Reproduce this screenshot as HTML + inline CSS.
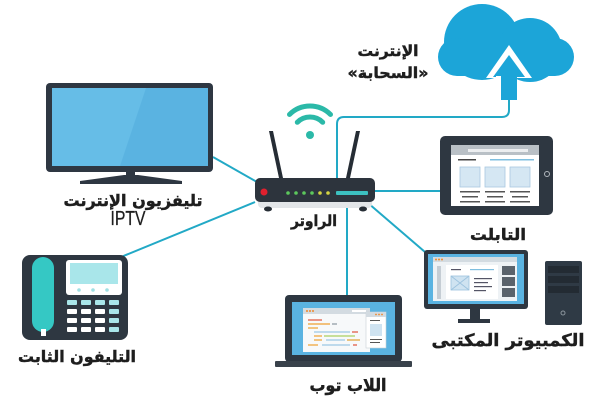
<!DOCTYPE html>
<html><head><meta charset="utf-8"><style>
html,body{margin:0;padding:0;background:#fff;}
svg{display:block;}
.lb{font-family:"DejaVu Sans","Liberation Sans",sans-serif;font-weight:bold;fill:#1e1e1e;stroke:#1e1e1e;stroke-width:0.45;}
</style></head><body>
<svg width="600" height="400" viewBox="0 0 600 400" xmlns="http://www.w3.org/2000/svg">
<!-- connectors -->
<g stroke="#22a9c6" stroke-width="2" fill="none">
<line x1="213" y1="157" x2="257" y2="182"/>
<line x1="255" y1="202" x2="121" y2="257"/>
<path d="M337,180 V124 Q337,117 344,117 H502 Q509,117 509,110 V98"/>
<line x1="375" y1="191" x2="441" y2="191"/>
<line x1="347" y1="205" x2="347" y2="296"/>
<line x1="368" y1="203" x2="425" y2="252"/>
</g>

<!-- cloud -->
<g fill="#1ca5d8">
<circle cx="482" cy="42" r="38"/>
<circle cx="530" cy="50" r="32"/>
<circle cx="457" cy="57" r="19"/>
<circle cx="555" cy="57" r="19"/>
<rect x="457" y="45" width="98" height="31"/>
</g>
<polygon points="509,45 486,78 532,78" fill="#fff"/>
<polygon points="509,55 493,77 525,77" fill="#1ca5d8"/>
<rect x="501" y="76" width="16" height="24" fill="#1ca5d8"/>
<rect x="496" y="76" width="5" height="1" fill="#fff"/>

<!-- TV -->
<rect x="46" y="83" width="167" height="89" rx="4" fill="#2e3742"/>
<rect x="52" y="88" width="156" height="78" fill="#5ab3e1"/>
<polygon points="52,88 146,88 120,166 52,166" fill="#66bde7"/>
<rect x="126" y="172" width="9" height="5" fill="#2e3742"/>
<polygon points="80,181 124,175 138,175 182,181 182,184 80,184" fill="#2e3742"/>

<!-- router -->
<polygon points="269,131 273,131 283,178 279,178" fill="#262d35"/>
<polygon points="356,131 360,131 350,178 346,178" fill="#262d35"/>
<rect x="258" y="198" width="114" height="10" rx="4" fill="#e2e5e8"/>
<ellipse cx="268" cy="209" rx="4" ry="2.5" fill="#262d35"/>
<ellipse cx="363" cy="209" rx="4" ry="2.5" fill="#262d35"/>
<rect x="255" y="178" width="120" height="24" rx="5" fill="#2d343d"/>
<circle cx="264" cy="192" r="3.5" fill="#e0202e"/>
<g fill="#5cc85c"><circle cx="288" cy="193" r="1.8"/><circle cx="296" cy="193" r="1.8"/><circle cx="304" cy="193" r="1.8"/><circle cx="312" cy="193" r="1.8"/></g>
<g fill="#d4d442"><circle cx="320" cy="193" r="1.8"/><circle cx="328" cy="193" r="1.8"/></g>
<rect x="336" y="191" width="32" height="4" rx="1" fill="#3cc0c0"/>

<!-- wifi -->
<g fill="none" stroke="#2bb9a8" stroke-width="5" stroke-linecap="round">
<path d="M289.5,114.5 A29,29 0 0 1 330.5,114.5"/>
<path d="M297.3,122.3 A18,18 0 0 1 322.7,122.3"/>
</g>
<circle cx="310" cy="135" r="4" fill="#2bb9a8"/>

<!-- tablet -->
<rect x="440" y="136" width="113" height="79" rx="5" fill="#2e3741"/>
<rect x="451" y="145" width="88" height="61" fill="#fff"/>
<rect x="451" y="145" width="88" height="10" fill="#b9c0c6"/>
<rect x="468" y="149" width="60" height="3" fill="#eceef0"/>
<rect x="458" y="159" width="18" height="1.5" fill="#444"/>
<rect x="490" y="159" width="44" height="1.5" fill="#7fbfe0"/>
<g fill="#d5e7f3" stroke="#a9c9e0" stroke-width="0.8">
<rect x="460" y="167" width="20" height="20"/><rect x="485" y="167" width="20" height="20"/><rect x="510" y="167" width="20" height="20"/>
</g>
<g fill="#555">
<rect x="460" y="191" width="20" height="1.5"/><rect x="485" y="191" width="20" height="1.5"/><rect x="510" y="191" width="20" height="1.5"/>
<rect x="462" y="196" width="16" height="1.5"/><rect x="487" y="196" width="16" height="1.5"/><rect x="512" y="196" width="16" height="1.5"/>
<rect x="460" y="201" width="20" height="1.5"/><rect x="485" y="201" width="20" height="1.5"/><rect x="510" y="201" width="20" height="1.5"/>
</g>
<circle cx="547" cy="174" r="2.5" fill="none" stroke="#b0b6bc" stroke-width="1"/>

<!-- desktop -->
<rect x="424" y="250" width="104" height="59" rx="3" fill="#2e3741"/>
<rect x="428" y="254" width="96" height="50" fill="#5ab3e1"/>
<rect x="433" y="257" width="84" height="44" fill="#eef2f5"/>
<rect x="433" y="257" width="84" height="5" fill="#d3dbe1"/>
<g fill="#f08a2c"><circle cx="436" cy="259.5" r="1"/><circle cx="439" cy="259.5" r="1"/><circle cx="442" cy="259.5" r="1"/></g>
<rect x="437" y="266" width="4" height="33" fill="#c5cdd4"/>
<rect x="446" y="265" width="52" height="34" fill="#fff"/>
<rect x="451" y="276" width="18" height="14" fill="#cfe3f1" stroke="#9cc2de" stroke-width="0.8"/>
<path d="M451,276 L469,290 M469,276 L451,290" stroke="#9cc2de" stroke-width="0.8"/>
<g fill="#556"><rect x="474" y="278" width="18" height="1.2"/><rect x="474" y="282" width="14" height="1.2"/><rect x="474" y="286" width="18" height="1.2"/><rect x="474" y="290" width="12" height="1.2"/></g>
<rect x="451" y="269" width="10" height="1.2" fill="#556"/>
<rect x="470" y="269" width="24" height="1.2" fill="#7fbfe0"/>
<g fill="#5a636c"><rect x="502" y="266" width="13" height="9"/><rect x="502" y="277" width="13" height="9"/><rect x="502" y="288" width="13" height="9"/></g>
<rect x="470" y="309" width="10" height="11" fill="#2e3741"/>
<rect x="458" y="319" width="32" height="4" fill="#2e3741"/>
<rect x="545" y="261" width="37" height="64" rx="2" fill="#2f3a45"/>
<g fill="#232b33"><rect x="548" y="266" width="31" height="7"/><rect x="548" y="276" width="31" height="7"/><rect x="548" y="286" width="31" height="7"/></g>
<circle cx="563" cy="313" r="2" fill="none" stroke="#8a949c" stroke-width="1"/>

<!-- laptop -->
<rect x="285" y="295" width="117" height="67" rx="4" fill="#2e3741"/>
<rect x="292" y="302" width="103" height="53" fill="#5ab3e1"/>
<rect x="275" y="361" width="137" height="6" rx="1" fill="#39424b"/>
<rect x="303" y="308" width="67" height="44" fill="#f7f9fa"/>
<rect x="303" y="308" width="67" height="6" fill="#d3dbe1"/>
<g fill="#f08a2c"><circle cx="307" cy="311" r="1"/><circle cx="310" cy="311" r="1"/><circle cx="313" cy="311" r="1"/></g>
<rect x="352" y="310" width="14" height="2" fill="#fff"/>
<g stroke-width="1.2">
<line x1="308" y1="320" x2="322" y2="320" stroke="#e0533b"/>
<line x1="308" y1="324" x2="330" y2="324" stroke="#f0a030"/><line x1="332" y1="324" x2="337" y2="324" stroke="#8a96a0"/>
<line x1="308" y1="328" x2="318" y2="328" stroke="#f0a030"/>
<line x1="314" y1="332" x2="350" y2="332" stroke="#9cc8e4"/><line x1="352" y1="332" x2="358" y2="332" stroke="#e0533b"/>
<line x1="314" y1="336" x2="322" y2="336" stroke="#f0a030"/><line x1="324" y1="336" x2="355" y2="336" stroke="#a8d060"/>
<line x1="314" y1="340" x2="322" y2="340" stroke="#f0a030"/><line x1="326" y1="340" x2="345" y2="340" stroke="#9cc8e4"/><line x1="347" y1="340" x2="360" y2="340" stroke="#e0a030"/>
<line x1="308" y1="345" x2="318" y2="345" stroke="#f0a030"/><line x1="322" y1="345" x2="350" y2="345" stroke="#9cc8e4"/><line x1="353" y1="345" x2="357" y2="345" stroke="#e0533b"/>
</g>
<rect x="366" y="312" width="20" height="36" fill="#fff" stroke="#c8d0d6" stroke-width="0.6"/>
<rect x="366" y="312" width="20" height="5" fill="#d3dbe1"/>
<g fill="#f08a2c"><circle cx="376" cy="314.5" r="0.9"/><circle cx="379" cy="314.5" r="0.9"/><circle cx="382" cy="314.5" r="0.9"/></g>
<rect x="370" y="320" width="10" height="1" fill="#555"/>
<rect x="370" y="324" width="12" height="12" fill="#cfe3f1"/>
<rect x="370" y="339" width="12" height="1" fill="#555"/><rect x="370" y="342" width="10" height="1" fill="#555"/>

<!-- phone -->
<rect x="22" y="255" width="106" height="85" rx="8" fill="#2e3741"/>
<rect x="32" y="257" width="22" height="75" rx="11" fill="#35c8c4"/>
<rect x="41" y="329" width="5" height="7" fill="#fff"/>
<rect x="66" y="260" width="56" height="35" rx="3" fill="#fff"/>
<rect x="70" y="263" width="48" height="21" fill="#a9e6ea"/>
<g fill="#9fdfe3"><circle cx="79" cy="290" r="1.8"/><circle cx="93" cy="290" r="1.8"/><circle cx="107" cy="290" r="1.8"/></g>
<g fill="#a9e6ea"><rect x="67" y="300" width="10" height="5" rx="1"/><rect x="81" y="300" width="10" height="5" rx="1"/><rect x="95" y="300" width="10" height="5" rx="1"/><rect x="109" y="300" width="10" height="5" rx="1"/>
<rect x="109" y="309" width="10" height="5" rx="1"/><rect x="109" y="318" width="10" height="5" rx="1"/><rect x="109" y="327" width="10" height="5" rx="1"/></g>
<g fill="#fff"><rect x="67" y="309" width="10" height="5" rx="1"/><rect x="81" y="309" width="10" height="5" rx="1"/><rect x="95" y="309" width="10" height="5" rx="1"/>
<rect x="67" y="318" width="10" height="5" rx="1"/><rect x="81" y="318" width="10" height="5" rx="1"/><rect x="95" y="318" width="10" height="5" rx="1"/>
<rect x="67" y="327" width="10" height="5" rx="1"/><rect x="81" y="327" width="10" height="5" rx="1"/><rect x="95" y="327" width="10" height="5" rx="1"/></g>

<!-- labels -->
<text class="lb" x="133" y="206" font-size="16" text-anchor="middle" textLength="139" lengthAdjust="spacingAndGlyphs">تليفزيون الإنترنت</text>
<text x="128" y="225" font-family="Liberation Sans, sans-serif" font-size="20" fill="#1e1e1e" stroke="#1e1e1e" stroke-width="0.3" text-anchor="middle" textLength="35" lengthAdjust="spacingAndGlyphs">IPTV</text>
<text class="lb" x="314" y="226" font-size="15" text-anchor="middle" textLength="46" lengthAdjust="spacingAndGlyphs">الراوتر</text>
<text class="lb" x="388" y="56" font-size="15" text-anchor="middle" textLength="61" lengthAdjust="spacingAndGlyphs">الإنترنت</text>
<text class="lb" x="388" y="78" font-size="15" text-anchor="middle" textLength="81" lengthAdjust="spacingAndGlyphs">«السحابة»</text>
<text class="lb" x="498" y="240" font-size="16" text-anchor="middle" textLength="56" lengthAdjust="spacingAndGlyphs">التابلت</text>
<text class="lb" x="508" y="346" font-size="17" text-anchor="middle" textLength="153" lengthAdjust="spacingAndGlyphs">الكمبيوتر المكتبى</text>
<text class="lb" x="348" y="391" font-size="17" text-anchor="middle" textLength="77" lengthAdjust="spacingAndGlyphs">اللاب توب</text>
<text class="lb" x="77" y="362" font-size="16" text-anchor="middle" textLength="118" lengthAdjust="spacingAndGlyphs">التليفون الثابت</text>
</svg>
</body></html>
